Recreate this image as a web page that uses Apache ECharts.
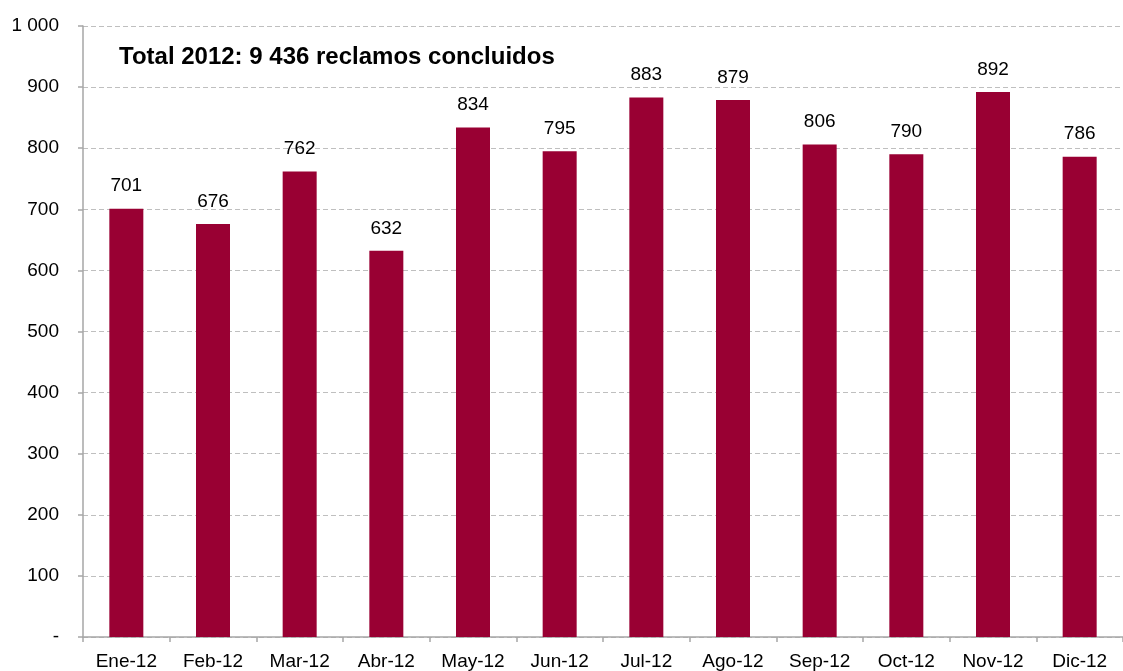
<!DOCTYPE html>
<html>
<head>
<meta charset="utf-8">
<script src="https://cdn.jsdelivr.net/npm/echarts@6/dist/echarts.min.js"></script>
<style>
  html, body { margin: 0; padding: 0; background: #fff; }
  #chart { width: 1123px; height: 671px; }
</style>
</head>
<body>
<div id="chart"></div>
<script>
var months = ['Ene-12', 'Feb-12', 'Mar-12', 'Abr-12', 'May-12', 'Jun-12',
              'Jul-12', 'Ago-12', 'Sep-12', 'Oct-12', 'Nov-12', 'Dic-12'];
var reclamos = [701, 676, 762, 632, 834, 795, 883, 879, 806, 790, 892, 786];
var titulo = 'Total 2012: 9 436 reclamos concluidos';

var chart = echarts.init(document.getElementById('chart'));

var option = {
    animation: false,
    textStyle: { fontFamily: 'Liberation Sans, Arial, sans-serif' },
    title: {
        text: titulo,
        left: 114,
        top: 40,
        textStyle: { fontSize: 24, fontWeight: 'bold', color: '#000' }
    },
    grid: { left: 83, top: 26, width: 1047, height: 611 },
    xAxis: {
        type: 'category',
        data: months,
        axisLine: { lineStyle: { color: '#a6a6a6', width: 1.5 } },
        axisTick: { show: true, length: 5, lineStyle: { color: '#a6a6a6', width: 1.5 } },
        axisLabel: { color: '#000', fontSize: 19, margin: 15 }
    },
    yAxis: {
        type: 'value',
        min: 0,
        max: 1000,
        interval: 100,
        axisLine: { show: true, lineStyle: { color: '#a6a6a6', width: 1.5 } },
        axisTick: { show: true, length: 5, lineStyle: { color: '#a6a6a6', width: 1.5 } },
        axisLabel: {
            color: '#000',
            fontSize: 19,
            margin: 24,
            formatter: function (v) {
                if (v === 0) return '-';
                if (v >= 1000) return '1 000';
                return String(v);
            }
        },
        splitLine: { lineStyle: { color: '#bfbfbf', type: [5, 3], width: 1 } }
    },
    series: [{
        type: 'bar',
        data: reclamos,
        barWidth: 34,
        itemStyle: { color: '#990033' },
        label: {
            show: true,
            position: 'top',
            distance: 13,
            color: '#000',
            fontSize: 19
        }
    }]
};

chart.setOption(option);
</script>
</body>
</html>
